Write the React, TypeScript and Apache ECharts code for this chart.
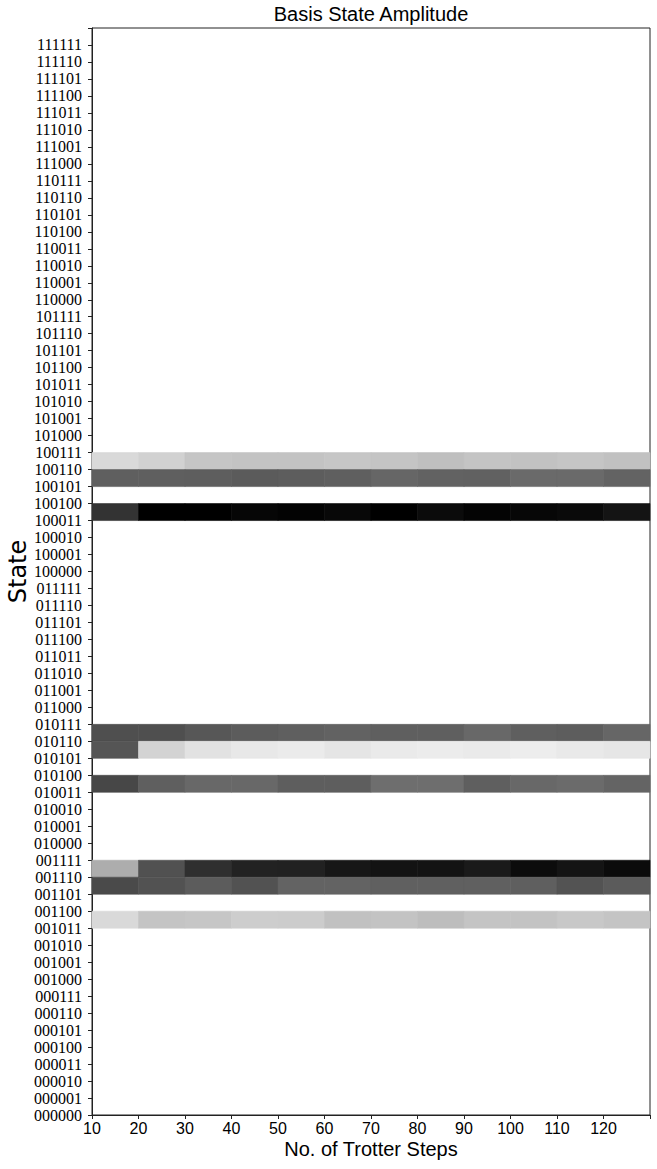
import React, { useEffect, useRef } from "react";
import * as echarts from "echarts";

// Trotter step columns (each cell spans [step, step + 10])
const steps = [10, 20, 30, 40, 50, 60, 70, 80, 90, 100, 110, 120];
const stepMax = 130;

// Basis-state tick labels 000000 .. 111111
const stateLabels = Array.from({ length: 64 }, (_, i) => i.toString(2).padStart(6, "0"));

// Amplitude (darkness, 0 = white, 1 = black) per non-empty state row
const amp100110 = [0.149, 0.18, 0.227, 0.235, 0.235, 0.224, 0.231, 0.251, 0.231, 0.239, 0.227, 0.243];
const amp100101 = [0.627, 0.627, 0.631, 0.643, 0.635, 0.627, 0.6, 0.616, 0.62, 0.584, 0.584, 0.612];
const amp100011 = [0.8, 1.0, 1.0, 0.976, 0.988, 0.969, 1.0, 0.957, 0.984, 0.973, 0.961, 0.922];
const amp010110 = [0.69, 0.69, 0.659, 0.639, 0.627, 0.616, 0.627, 0.627, 0.592, 0.627, 0.635, 0.6];
const amp010101 = [0.667, 0.173, 0.114, 0.09, 0.078, 0.102, 0.082, 0.075, 0.082, 0.071, 0.086, 0.098];
const amp010011 = [0.722, 0.627, 0.592, 0.592, 0.631, 0.631, 0.569, 0.569, 0.627, 0.592, 0.58, 0.608];
const amp001110 = [0.322, 0.682, 0.816, 0.867, 0.871, 0.91, 0.925, 0.925, 0.898, 0.953, 0.922, 0.957];
const amp001101 = [0.71, 0.678, 0.639, 0.678, 0.612, 0.612, 0.624, 0.624, 0.624, 0.627, 0.675, 0.643];
const amp001011 = [0.149, 0.231, 0.224, 0.196, 0.2, 0.243, 0.235, 0.259, 0.231, 0.235, 0.216, 0.231];

const rows: [string, number[]][] = [
  ["100110", amp100110],
  ["100101", amp100101],
  ["100011", amp100011],
  ["010110", amp010110],
  ["010101", amp010101],
  ["010011", amp010011],
  ["001110", amp001110],
  ["001101", amp001101],
  ["001011", amp001011],
];

export default function App() {
  const ref = useRef<HTMLDivElement>(null);

  useEffect(() => {
    if (!ref.current) return;
    const chart = echarts.init(ref.current, undefined, { renderer: "svg" });

    const data: number[][] = [];
    rows.forEach(([label, vals]) => {
      const idx = stateLabels.indexOf(label);
      vals.forEach((v, j) => data.push([steps[j], idx, v]));
    });

    const axisColor = "#222";

    chart.setOption({
      animation: false,
      backgroundColor: "#ffffff",
      title: {
        text: "Basis State Amplitude",
        left: 371,
        top: 4,
        padding: 0,
        textAlign: "center",
        textStyle: {
          fontFamily: "'Liberation Sans', Arial, sans-serif",
          fontSize: 20,
          fontWeight: "normal",
          color: "#000",
        },
      },
      grid: {
        left: 92,
        right: 7,
        top: 28,
        bottom: 54,
        show: true,
        borderColor: axisColor,
        borderWidth: 1,
        backgroundColor: "#fff",
        containLabel: false,
        outerBoundsMode: "none",
      },
      visualMap: {
        show: false,
        type: "continuous",
        min: 0,
        max: 1,
        dimension: 2,
        seriesIndex: 0,
        inRange: { color: ["#ffffff", "#000000"] },
      },
      xAxis: {
        type: "value",
        min: 10,
        max: stepMax,
        interval: 10,
        name: "No. of Trotter Steps",
        nameLocation: "middle",
        nameGap: 24,
        nameMoveOverlap: false,
        nameTextStyle: {
          fontFamily: "'Liberation Sans', Arial, sans-serif",
          fontSize: 20,
          color: "#000",
        },
        axisLine: { show: true, lineStyle: { color: axisColor, width: 1 } },
        axisTick: { show: true, length: 4, inside: false, lineStyle: { color: axisColor } },
        splitLine: { show: false },
        axisLabel: {
          margin: 5,
          fontFamily: "'Liberation Sans', Arial, sans-serif",
          fontSize: 16,
          color: "#000",
          formatter: (v: number) => (v >= stepMax ? "" : String(v)),
        },
      },
      yAxis: {
        type: "value",
        min: 0,
        max: 64,
        interval: 1,
        name: "State",
        nameLocation: "middle",
        nameRotate: 90,
        nameGap: 62,
        nameMoveOverlap: false,
        nameTextStyle: {
          fontFamily: "'DejaVu Sans', sans-serif",
          fontSize: 24,
          color: "#000",
        },
        axisLine: { show: true, lineStyle: { color: axisColor, width: 1 } },
        axisTick: { show: true, length: 4, inside: false, lineStyle: { color: axisColor } },
        splitLine: { show: false },
        axisLabel: {
          margin: 10,
          fontFamily: "'Liberation Serif', 'Times New Roman', serif",
          fontSize: 16,
          color: "#000",
          formatter: (v: number) => (v >= 0 && v < 64 ? stateLabels[v] : ""),
        },
      },
      series: [
        {
          type: "custom",
          coordinateSystem: "cartesian2d",
          encode: { x: 0, y: 1 },
          data,
          renderItem: (params: any, api: any) => {
            const x0 = api.value(0);
            const y0 = api.value(1);
            const p1 = api.coord([x0, y0 + 1]);
            const p2 = api.coord([x0 + 10, y0]);
            const color = api.visual("color");
            return {
              type: "rect",
              shape: { x: p1[0], y: p1[1], width: p2[0] - p1[0], height: p2[1] - p1[1] },
              style: { fill: color, stroke: color, lineWidth: 0.6 },
            };
          },
        },
      ],
    });

    return () => chart.dispose();
  }, []);

  return (
    <div
      ref={ref}
      style={{ position: "absolute", left: 0, top: 0, width: 657, height: 1169 }}
    />
  );
}
